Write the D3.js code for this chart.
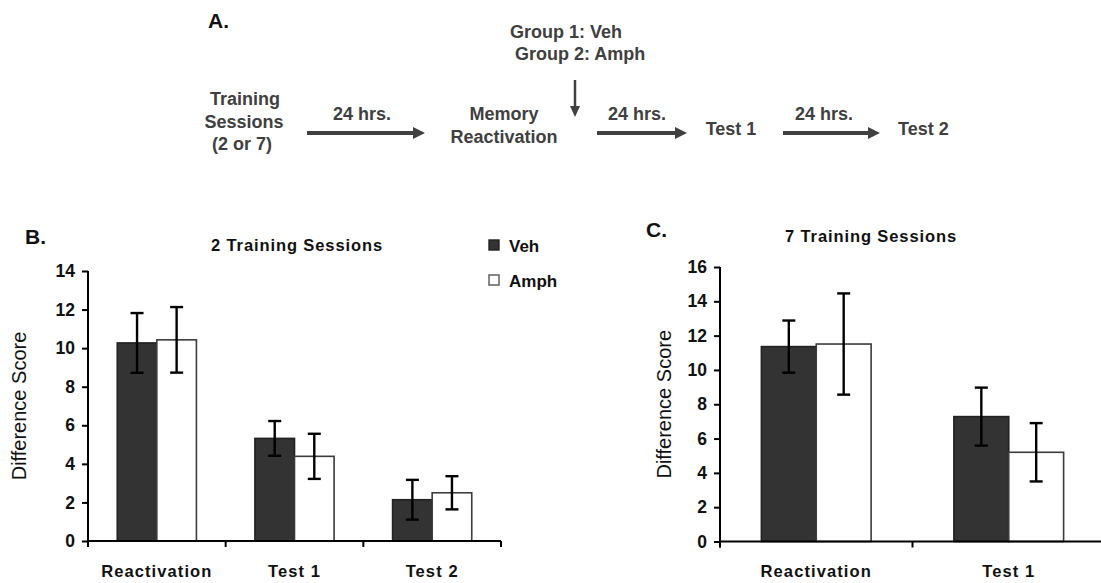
<!DOCTYPE html>
<html>
<head>
<meta charset="utf-8">
<script src="https://cdn.jsdelivr.net/npm/d3@7"></script>
<style>
  html, body { margin: 0; padding: 0; background: #fff; }
  svg { display: block; font-family: "Liberation Sans", Arial, sans-serif; }
</style>
</head>
<body>
<svg id="fig" width="1101" height="583"></svg>
<script>
// ---- Data ----
const groups = ["Veh", "Amph"];

const categoriesB = ["Reactivation", "Test 1", "Test 2"];
const vehB = [10.27, 5.32, 2.14];
const vehErrB = [1.55, 0.90, 1.03];
const amphB = [10.43, 4.39, 2.50];
const amphErrB = [1.70, 1.17, 0.86];
const ticksB = [0, 2, 4, 6, 8, 10, 12, 14];

const categoriesC = ["Reactivation", "Test 1"];
const vehC = [11.36, 7.28];
const vehErrC = [1.52, 1.69];
const amphC = [11.51, 5.20];
const amphErrC = [2.95, 1.70];
const ticksC = [0, 2, 4, 6, 8, 10, 12, 14, 16];

const svg = d3.select("#fig");
const fills = { Veh: "#333333", Amph: "#ffffff" };
const strokes = { Veh: "#222222", Amph: "#3c3c3c" };

// ---- Panel A: timeline diagram ----
const diagColor = "#404040";
const A = svg.append("g");
A.append("text").attr("x", 208).attr("y", 28).attr("font-size", 21).attr("font-weight", "bold")
  .attr("fill", "#111").text("A.");

function diagText(x, y, s, anchor) {
  A.append("text").attr("x", x).attr("y", y).attr("text-anchor", anchor || "middle")
    .attr("font-size", 18).attr("font-weight", "bold").attr("fill", diagColor).text(s);
}
function hArrow(x1, x2, y) {
  A.append("line").attr("x1", x1).attr("x2", x2 - 9).attr("y1", y).attr("y2", y)
    .attr("stroke", diagColor).attr("stroke-width", 4);
  A.append("path").attr("d", `M${x2},${y} L${x2 - 12},${y - 6} L${x2 - 12},${y + 6} Z`).attr("fill", diagColor);
}
function vArrow(x, y1, y2) {
  A.append("line").attr("x1", x).attr("x2", x).attr("y1", y1).attr("y2", y2 - 8)
    .attr("stroke", diagColor).attr("stroke-width", 2.5);
  A.append("path").attr("d", `M${x},${y2} L${x - 5},${y2 - 11} L${x + 5},${y2 - 11} Z`).attr("fill", diagColor);
}
diagText(245, 105, "Training");
diagText(244, 128, "Sessions");
diagText(242, 150, "(2 or 7)");
diagText(362, 120, "24 hrs.");
hArrow(307, 425, 133);
diagText(504, 120, "Memory");
diagText(504, 143, "Reactivation");
diagText(510, 38, "Group 1: Veh", "start");
diagText(515, 60, "Group 2: Amph", "start");
vArrow(575, 80, 117);
diagText(637, 120, "24 hrs.");
hArrow(597, 687, 133);
diagText(731, 135, "Test 1");
diagText(824, 120, "24 hrs.");
hArrow(783, 880, 133);
diagText(898, 135, "Test 2", "start");

// ---- Bar chart panels ----
function barPanel(opts) {
  const g = svg.append("g");
  const y = d3.scaleLinear().domain([0, opts.yMax]).range([opts.y0, opts.yTop]);
  const x = d3.scaleBand().domain(opts.categories).range([opts.x0, opts.x1])
    .paddingInner(opts.pad).paddingOuter(opts.pad / 2);
  const xs = d3.scaleBand().domain(groups).range([0, x.bandwidth()]);

  const rows = opts.categories.map((c, i) => [
    { cat: c, grp: "Veh", v: opts.veh[i], e: opts.vehErr[i] },
    { cat: c, grp: "Amph", v: opts.amph[i], e: opts.amphErr[i] }
  ]).flat();

  // bars
  g.selectAll("rect.bar").data(rows).join("rect").attr("class", "bar")
    .attr("x", d => x(d.cat) + xs(d.grp))
    .attr("y", d => y(d.v))
    .attr("width", xs.bandwidth())
    .attr("height", d => y(0) - y(d.v))
    .attr("fill", d => fills[d.grp])
    .attr("stroke", d => strokes[d.grp])
    .attr("stroke-width", 1.6);

  // error bars
  const cx = d => x(d.cat) + xs(d.grp) + xs.bandwidth() / 2;
  const eb = g.selectAll("g.err").data(rows).join("g").attr("class", "err")
    .attr("stroke", "#000").attr("stroke-width", 2.4);
  eb.append("line").attr("x1", cx).attr("x2", cx)
    .attr("y1", d => y(d.v + d.e)).attr("y2", d => y(d.v - d.e));
  eb.append("line").attr("x1", d => cx(d) - 6.5).attr("x2", d => cx(d) + 6.5)
    .attr("y1", d => y(d.v + d.e)).attr("y2", d => y(d.v + d.e));
  eb.append("line").attr("x1", d => cx(d) - 6.5).attr("x2", d => cx(d) + 6.5)
    .attr("y1", d => y(d.v - d.e)).attr("y2", d => y(d.v - d.e));

  // y axis
  const yAxis = d3.axisLeft(y).tickValues(opts.ticks).tickSize(6).tickSizeOuter(0).tickPadding(7);
  const ya = g.append("g").attr("transform", `translate(${opts.x0},0)`).call(yAxis);
  ya.select(".domain").attr("stroke", "#000").attr("stroke-width", 2)
    .attr("d", `M0,${opts.y0 + 6}V${opts.yTop}`);
  ya.selectAll(".tick line").attr("stroke", "#000").attr("stroke-width", 2);
  ya.selectAll(".tick text").attr("font-size", 17.5).attr("font-weight", "bold")
    .attr("fill", "#111").attr("font-family", "Liberation Sans, Arial, sans-serif");

  // x axis: boundary ticks between categories, labels centred under groups
  const step = x.step();
  const bounds = d3.range(opts.categories.length + 1).map(i => opts.x0 + i * step);
  g.append("line").attr("x1", opts.x0).attr("x2", opts.x0 + opts.categories.length * step)
    .attr("y1", opts.y0).attr("y2", opts.y0).attr("stroke", "#000").attr("stroke-width", 2);
  g.selectAll("line.xt").data(bounds).join("line").attr("class", "xt")
    .attr("x1", d => d).attr("x2", d => d).attr("y1", opts.y0).attr("y2", opts.y0 + 6)
    .attr("stroke", "#000").attr("stroke-width", 2);
  g.selectAll("text.xl").data(opts.categories).join("text").attr("class", "xl")
    .attr("x", d => x(d) + x.bandwidth() / 2).attr("y", 577)
    .attr("text-anchor", "middle").attr("font-size", 16.5).attr("font-weight", "bold")
    .attr("letter-spacing", 1.1).attr("fill", "#111").text(d => d);

  // y label
  g.append("text")
    .attr("transform", `translate(${opts.ylabX},${(opts.y0 + opts.yTop) / 2}) rotate(-90)`)
    .attr("text-anchor", "middle").attr("font-size", 20).attr("fill", "#111")
    .text("Difference Score");

  // title and panel letter
  g.append("text").attr("x", opts.titleX).attr("y", opts.titleY).attr("text-anchor", "middle")
    .attr("font-size", 16.5).attr("font-weight", "bold").attr("letter-spacing", 0.9)
    .attr("fill", "#111").text(opts.title);
  g.append("text").attr("x", opts.letterX).attr("y", opts.letterY)
    .attr("font-size", 21).attr("font-weight", "bold").attr("fill", "#111").text(opts.letter);
  return g;
}

barPanel({
  categories: categoriesB, veh: vehB, vehErr: vehErrB, amph: amphB, amphErr: amphErrB,
  ticks: ticksB, yMax: 14, y0: 541, yTop: 271, x0: 88, x1: 501, pad: 0.425,
  ylabX: 26, title: "2 Training Sessions", titleX: 297, titleY: 251,
  letter: "B.", letterX: 25, letterY: 244
});

barPanel({
  categories: categoriesC, veh: vehC, vehErr: vehErrC, amph: amphC, amphErr: amphErrC,
  ticks: ticksC, yMax: 16, y0: 541.5, yTop: 267, x0: 720, x1: 1105, pad: 0.43,
  ylabX: 671, title: "7 Training Sessions", titleX: 871, titleY: 242,
  letter: "C.", letterX: 646, letterY: 237
});

// ---- Legend ----
const leg = svg.append("g");
leg.selectAll("rect").data(groups).join("rect")
  .attr("x", 489).attr("y", (d, i) => 240 + i * 35).attr("width", 10).attr("height", 10)
  .attr("fill", d => fills[d]).attr("stroke", d => d === "Veh" ? "#222" : "#555").attr("stroke-width", 1.4);
leg.selectAll("text").data(groups).join("text")
  .attr("x", 509).attr("y", (d, i) => 251.5 + i * 35)
  .attr("font-size", 17).attr("font-weight", "bold").attr("fill", "#111").text(d => d);
</script>
</body>
</html>
